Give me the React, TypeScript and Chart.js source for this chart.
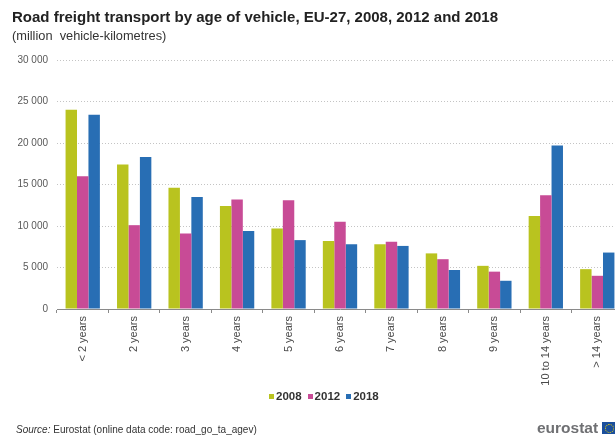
import React, { useEffect, useRef } from "react";
import { Chart, registerables } from "chart.js";

Chart.register(...registerables);

const categories = [
  "< 2 years",
  "2 years",
  "3 years",
  "4 years",
  "5 years",
  "6 years",
  "7 years",
  "8 years",
  "9 years",
  "10 to 14 years",
  "> 14 years",
];
const values2008 = [24000, 17400, 14600, 12400, 9700, 8200, 7800, 6700, 5200, 11200, 4800];
const values2012 = [16000, 10100, 9100, 13200, 13100, 10500, 8100, 6000, 4500, 13700, 4000];
const values2018 = [23400, 18300, 13500, 9400, 8300, 7800, 7600, 4700, 3400, 19700, 6800];
const seriesNames = ["2008", "2012", "2018"];
const seriesColors = ["#b9c31f", "#c84b96", "#286eb4"];

const FONT = "'Liberation Sans', Arial, sans-serif";

function fmt(v: number): string {
  return String(v).replace(/\B(?=(\d{3})+(?!\d))/g, " ");
}

export default function App() {
  const ref = useRef<HTMLCanvasElement | null>(null);

  useEffect(() => {
    if (!ref.current) return;
    const chart = new Chart(ref.current, {
      type: "bar",
      data: {
        labels: categories,
        datasets: [values2008, values2012, values2018].map((d, i) => ({
          label: seriesNames[i],
          data: d,
          backgroundColor: seriesColors[i],
          borderWidth: 0,
          barPercentage: 1,
          categoryPercentage: 0.667,
        })),
      },
      options: {
        responsive: false,
        animation: false,
        devicePixelRatio: 1,
        layout: { padding: { left: 0, top: 60, right: 17, bottom: 0 } },
        plugins: {
          legend: { display: false },
          tooltip: { enabled: false },
          title: { display: false },
        },
        scales: {
          x: {
            type: "category",
            offset: true,
            afterFit: (s: any) => {
              s.height = 128;
            },
            border: { display: true, color: "#8a8a8a", width: 1 },
            grid: {
              offset: true,
              drawOnChartArea: false,
              drawTicks: true,
              tickLength: 4,
              color: "#8a8a8a",
            },
            ticks: {
              autoSkip: false,
              minRotation: 90,
              maxRotation: 90,
              padding: 3,
              color: "#4a4a4a",
              font: { family: FONT, size: 11 },
            },
          },
          y: {
            min: 0,
            max: 30000,
            afterFit: (s: any) => {
              s.width = 57;
            },
            border: { display: false, dash: [1, 2] },
            grid: {
              drawTicks: false,
              color: "#c4c4c4",
              lineWidth: 1,
            },
            ticks: {
              stepSize: 5000,
              padding: 9,
              color: "#595959",
              font: { family: FONT, size: 10 },
              callback: (v: any) => fmt(Number(v)),
            },
          },
        },
      },
    } as any);
    return () => chart.destroy();
  }, []);

  const legendItem = (name: string, color: string, key: number) => (
    <div key={key} style={{ display: "flex", alignItems: "center", marginRight: 6 }}>
      <div style={{ width: 5, height: 5, background: color, marginRight: 2 }} />
      <span style={{ font: `bold 11.5px ${FONT}`, color: "#333" }}>{name}</span>
    </div>
  );

  return (
    <div
      style={{
        position: "fixed",
        left: 0,
        top: 0,
        width: 615,
        height: 437,
        overflow: "hidden",
        background: "#ffffff",
      }}
    >
      <canvas
        ref={ref}
        width={640}
        height={437}
        style={{ position: "absolute", left: 0, top: 0, width: 640, height: 437 }}
      />
      <div
        style={{
          position: "absolute",
          left: 12,
          top: 8,
          font: `bold 15px ${FONT}`,
          color: "#222",
          whiteSpace: "nowrap",
        }}
      >
        Road freight transport by age of vehicle, EU-27, 2008, 2012 and 2018
      </div>
      <div
        style={{
          position: "absolute",
          left: 12,
          top: 28,
          font: `12.8px ${FONT}`,
          color: "#333",
          whiteSpace: "pre",
        }}
      >
        {"(million  vehicle-kilometres)"}
      </div>
      <div
        style={{
          position: "absolute",
          left: 269,
          top: 389,
          display: "flex",
          alignItems: "center",
          height: 14,
        }}
      >
        {seriesNames.map((n, i) => legendItem(n, seriesColors[i], i))}
      </div>
      <div
        style={{
          position: "absolute",
          left: 16,
          top: 424,
          font: `10px ${FONT}`,
          color: "#333",
          whiteSpace: "nowrap",
        }}
      >
        <i>Source:</i> Eurostat (online data code: road_go_ta_agev)
      </div>
      <div
        style={{
          position: "absolute",
          left: 537,
          top: 419,
          font: `bold 15.5px ${FONT}`,
          color: "#6f7073",
          whiteSpace: "nowrap",
          letterSpacing: 0,
        }}
      >
        eurostat
      </div>
      <div
        style={{
          position: "absolute",
          left: 602,
          top: 422,
          width: 16,
          height: 12,
          background: "#1b4f9c",
          overflow: "hidden",
        }}
      >
        <div
          style={{
            position: "absolute",
            left: 3,
            top: 2,
            width: 7,
            height: 7,
            borderRadius: "50%",
            border: "1px dotted #f5d800",
          }}
        />
      </div>
    </div>
  );
}
